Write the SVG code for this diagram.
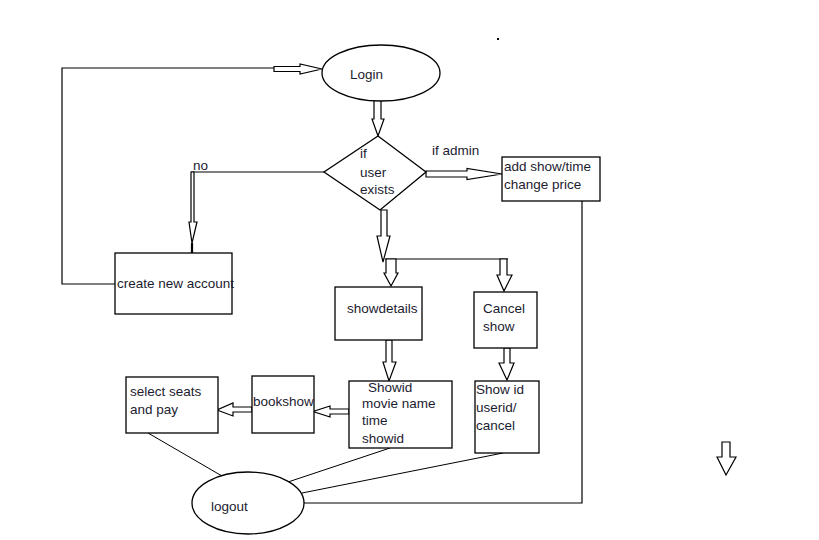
<svg xmlns="http://www.w3.org/2000/svg" width="819" height="540" viewBox="0 0 819 540">
  <style>
    .shape { fill: #ffffff; stroke: #000000; stroke-width: 1.3; }
    .line { fill: none; stroke: #000000; stroke-width: 1.2; }
    .thin { fill: none; stroke: #000000; stroke-width: 1; }
    .arrow { fill: #ffffff; stroke: #000000; stroke-width: 1.2; stroke-linejoin: miter; }
    text { font-family: "Liberation Sans", Arial, sans-serif; font-size: 13.5px; fill: #1c1c30; }
  </style>
  <rect width="819" height="540" fill="#ffffff"/>

  <!-- connectors -->
  <g id="connectors">
    <!-- loop back from create new account to login -->
    <polyline class="line" points="115,284 62,284 62,68 274,68"/>
    <polygon class="arrow" points="274,66.5 300,66.5 300,64 322,69 300,74 300,71.5 274,71.5"/>
    <!-- login to decision -->
    <polygon class="arrow" points="374,100 381,100 381,119 384,119 378,136 372,119 374,119"/>
    <!-- decision to admin -->
    <polygon class="arrow" points="426,171 467,171 467,168.5 502,174 467,179.5 467,177 426,177"/>
    <!-- decision "no" branch -->
    <polyline class="line" points="324,172 191,172"/>
    <polygon class="arrow" points="191,172 194,172 194,222 197,222 192,243 189,222 191,222"/>
    <line x1="192" y1="243" x2="192" y2="253" stroke="#000" stroke-width="2.2"/>
    <!-- decision down to user options -->
    <polygon class="arrow" points="381,210 387,210 387,236 390,236 383,262 377,236 381,236"/>
    <polyline class="line" points="385,259 508,259"/>
    <polygon class="arrow" points="386,259 396,259 396,273 398,273 391,286 384,273 386,273"/>
    <polygon class="arrow" points="500,259 507,259 507,275 512,275 504,291 497,275 500,275"/>
    <!-- showdetails to show info -->
    <polygon class="arrow" points="386,340 392,340 392,362 396,362 389,381 383,362 386,362"/>
    <!-- cancel show to cancel info -->
    <polygon class="arrow" points="504,348 510,348 510,363 514,363 507,380 499,363 504,363"/>
    <!-- show info to bookshow -->
    <polygon class="arrow" points="349,409 330,409 330,406 313,411.5 330,417 330,414 349,414"/>
    <!-- bookshow to select seats -->
    <polygon class="arrow" points="252,407 233,407 233,403 217,410 233,416 233,412 252,412"/>
    <!-- admin down to logout -->
    <polyline class="line" points="582,201 582,503 304,503"/>
    <!-- lines to logout -->
    <line class="thin" x1="222" y1="476" x2="148" y2="433"/>
    <line class="thin" x1="288" y1="482" x2="390" y2="448"/>
    <line class="thin" x1="302" y1="493" x2="503" y2="453"/>
    <!-- lone arrow -->
    <polygon class="arrow" points="722,442 730,442 730,457 736,457 726,475 717,457 722,457"/>
  </g>

  <!-- small mark near the top -->
  <rect x="497" y="38" width="2" height="2" fill="#000"/>

  <g id="login">
    <ellipse class="shape" cx="381" cy="73" rx="59" ry="28"/>
    <text x="350" y="79">Login</text>
  </g>

  <g id="decision">
    <polygon class="shape" points="378,136 426,172 380,210 324,172"/>
    <text x="360" y="158">if</text>
    <text x="360" y="177">user</text>
    <text x="360" y="194">exists</text>
  </g>

  <g id="admin-label">
    <text x="432" y="155">if admin</text>
  </g>

  <g id="admin">
    <rect class="shape" x="502" y="157" width="98" height="44"/>
    <text x="504" y="171">add show/time</text>
    <text x="504" y="189">change price</text>
  </g>

  <g id="no-label">
    <text x="193" y="170">no</text>
  </g>

  <g id="create-account">
    <rect class="shape" x="115" y="253" width="117" height="61"/>
    <text x="117" y="288" font-size="14">create new account</text>
  </g>

  <g id="showdetails">
    <rect class="shape" x="335" y="287" width="87" height="53"/>
    <text x="347" y="313">showdetails</text>
  </g>

  <g id="cancel-show">
    <rect class="shape" x="474" y="292" width="63" height="56"/>
    <text x="483" y="313">Cancel</text>
    <text x="483" y="331">show</text>
  </g>

  <g id="show-info">
    <rect class="shape" x="349" y="381" width="103" height="67"/>
    <text x="368" y="392" font-size="13">Showid</text>
    <text x="362" y="408" font-size="13">movie name</text>
    <text x="362" y="425">time</text>
    <text x="362" y="443">showid</text>
  </g>

  <g id="cancel-info">
    <rect class="shape" x="475" y="381" width="64" height="72"/>
    <text x="476" y="394">Show id</text>
    <text x="476" y="412">userid/</text>
    <text x="476" y="430">cancel</text>
  </g>

  <g id="bookshow">
    <rect class="shape" x="252" y="376" width="62" height="57"/>
    <text x="253" y="406">bookshow</text>
  </g>

  <g id="select-seats">
    <rect class="shape" x="126" y="377" width="92" height="56"/>
    <text x="130" y="396">select seats</text>
    <text x="130" y="414">and pay</text>
  </g>

  <g id="logout">
    <ellipse class="shape" cx="248" cy="503" rx="56" ry="31"/>
    <text x="211" y="511">logout</text>
  </g>
</svg>
